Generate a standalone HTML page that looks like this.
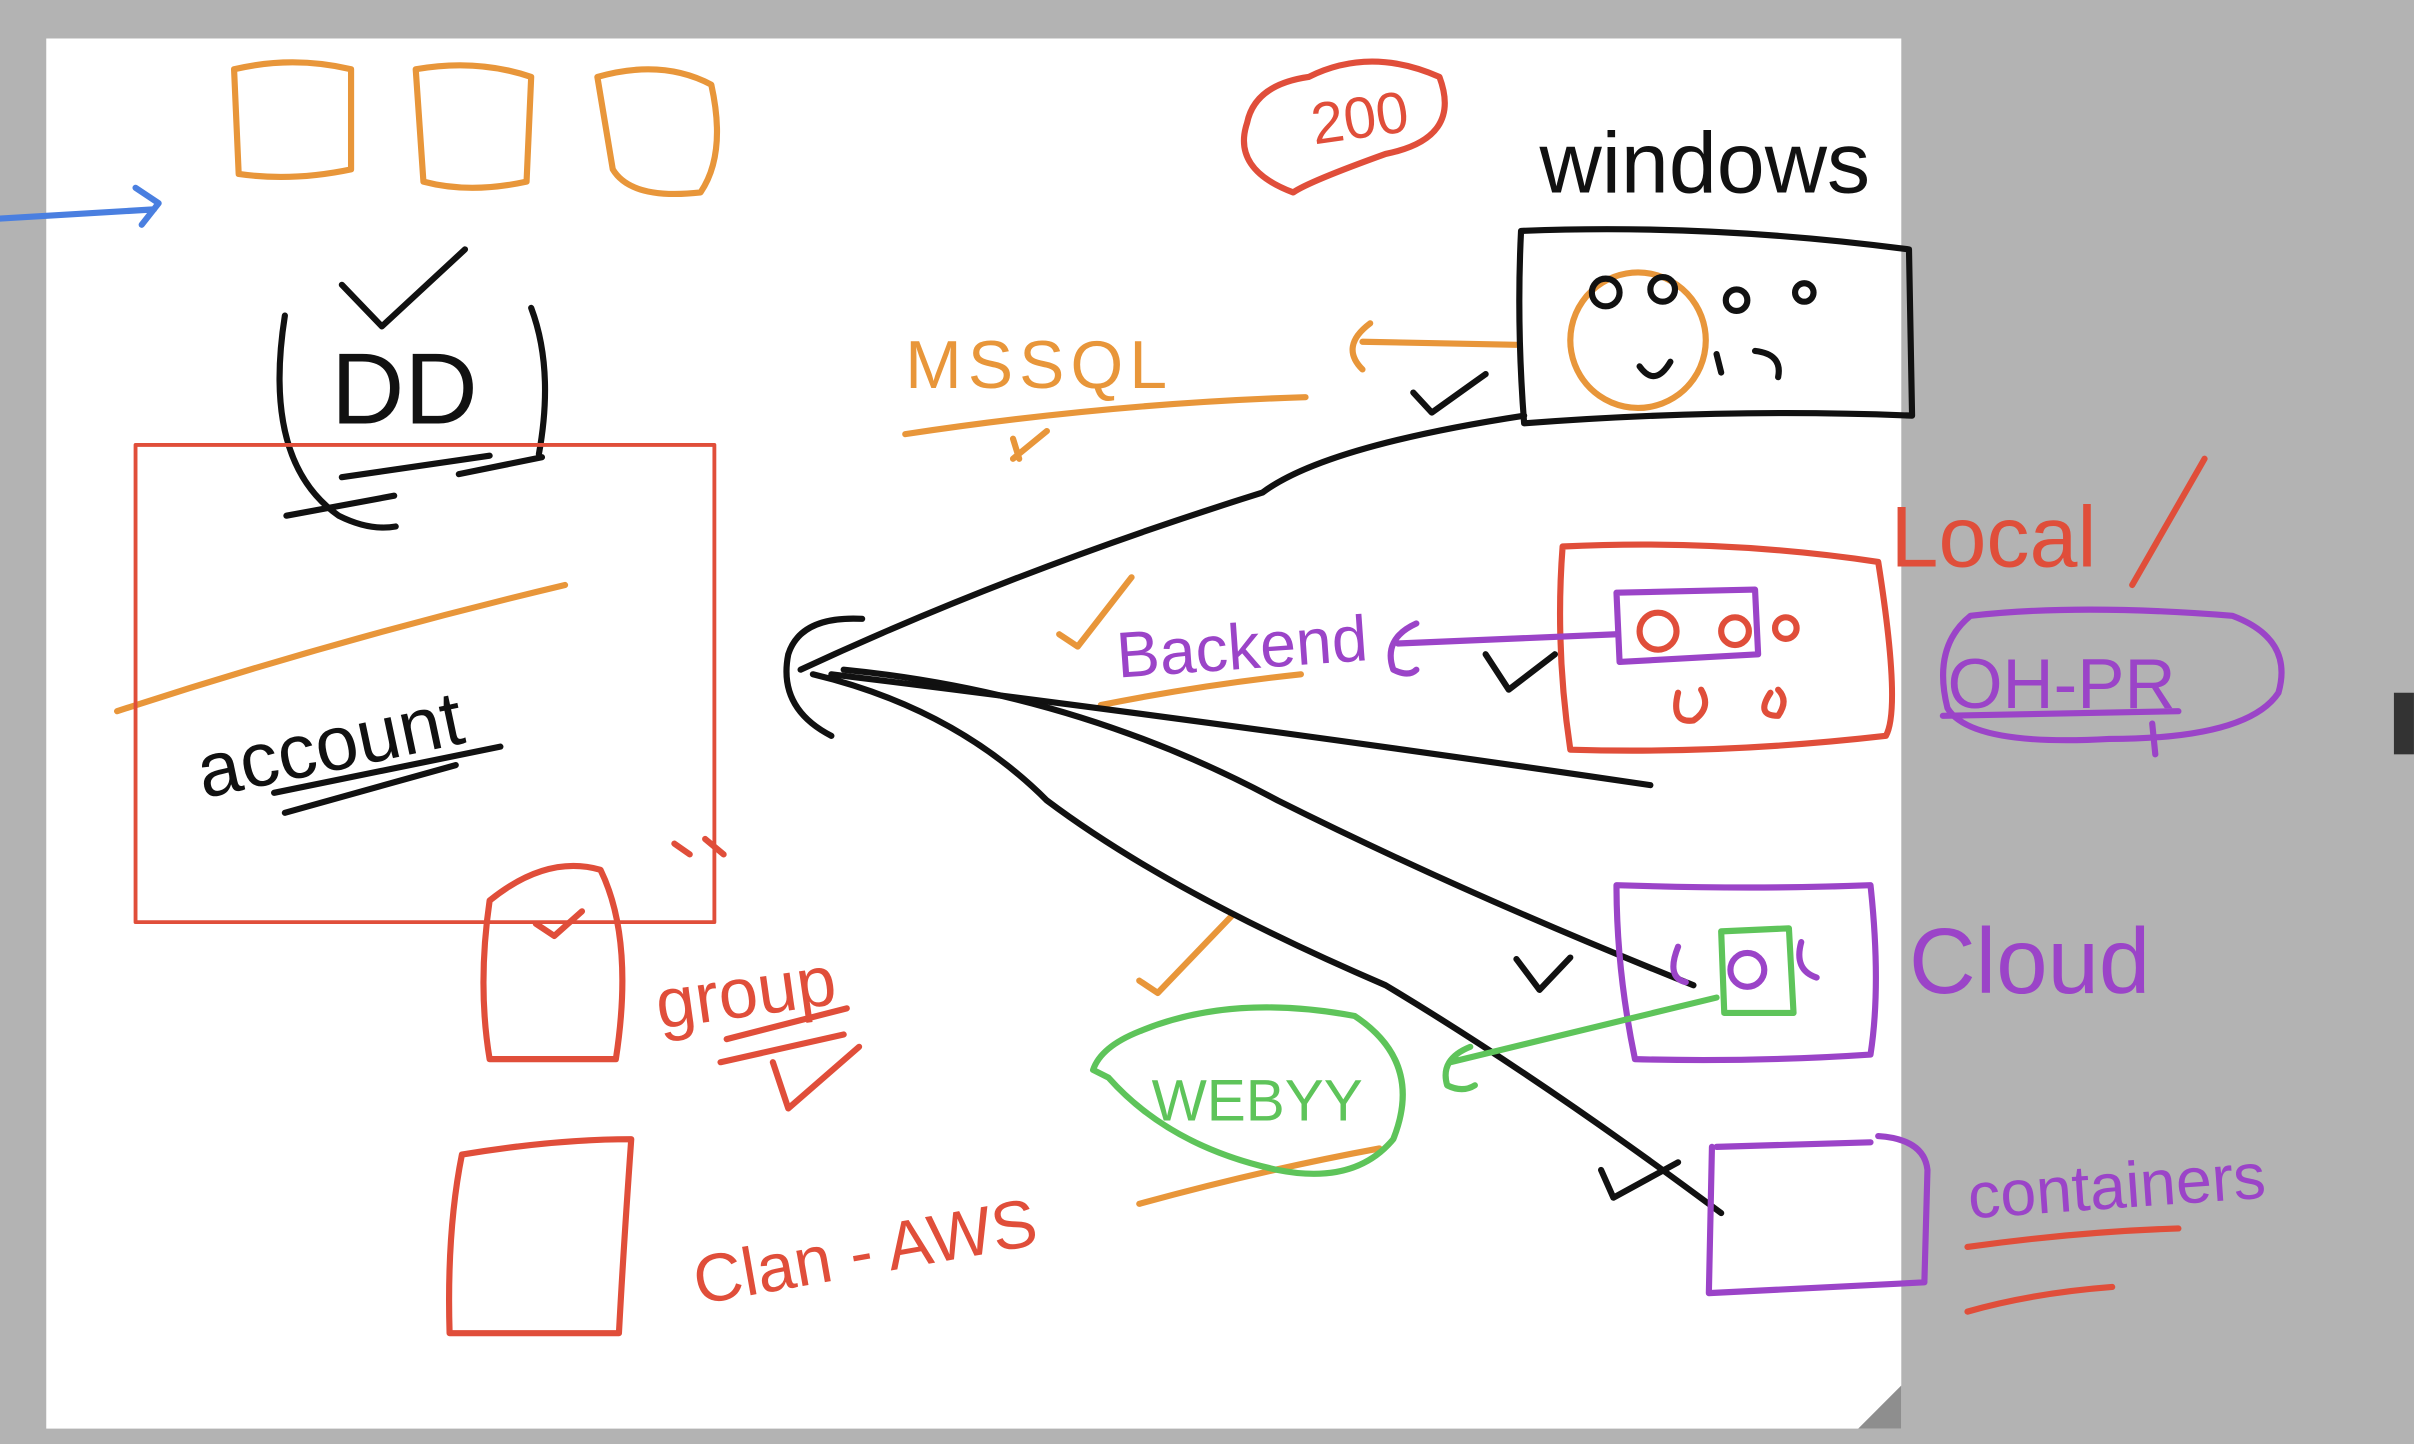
<!DOCTYPE html>
<html><head><meta charset="utf-8"><style>
html,body{margin:0;padding:0;background:#b3b3b3;}
svg{display:block;}
text{font-family:"Liberation Sans",sans-serif;}
</style></head><body>
<svg width="2414" height="1444" viewBox="0 0 1568 938" xmlns="http://www.w3.org/2000/svg">
<rect width="1568" height="938" fill="#b3b3b3"/>
<rect x="30" y="25" width="1205" height="903" fill="#fff"/>
<polygon points="1235,900 1235,928 1207,928" fill="#8e8e8e"/>
<rect x="1555" y="450" width="13" height="40" fill="#333"/>
<g fill="none" stroke-linecap="round" stroke-linejoin="round" stroke-width="4">
<path d="M0,142 L100,136 M88,122 L103,132 L92,146" stroke="#4a7fe0"/>
<g stroke="#e8963a">
<path d="M152,45 Q190,36 228,45 L228,110 Q190,118 155,113 Z"/>
<path d="M270,45 Q310,38 345,50 L342,118 Q305,126 275,118 Z"/>
<path d="M388,50 Q430,38 462,55 Q472,100 455,125 Q410,130 398,110 Z"/>
<path d="M76,462 Q220,415 367,380"/>
<path d="M588,282 Q720,262 848,258 M658,298 L680,280 M658,285 L662,298"/>
<path d="M890,210 Q870,225 885,240 M885,222 L985,224"/>
<circle cx="1064" cy="221" r="44" transform="rotate(-10 1064 221)"/>
<path d="M688,412 L700,420 L735,375 M715,458 Q780,445 845,438"/>
<path d="M740,637 L752,645 L800,595 M740,782 Q820,760 896,746"/>
</g>
<g stroke="#111">
<path d="M222,185 L248,212 L302,162"/>
<path d="M185,205 Q170,300 220,335 Q240,345 257,342 M345,200 Q360,240 350,295"/>
<path d="M222,310 L318,296 M298,308 L352,297 M186,335 L256,322"/>
<path d="M178,515 L325,485 M185,528 L296,497"/>
<path d="M560,402 Q520,400 512,425 Q505,460 540,478"/>
<path d="M520,435 Q660,370 820,320 Q860,290 990,270"/>
<path d="M540,438 Q800,470 1072,510"/>
<path d="M548,435 Q700,450 830,520 Q950,580 1100,640"/>
<path d="M528,438 Q620,460 680,520 Q760,580 900,640 Q1000,700 1118,788"/>
<path d="M988,150 Q1110,145 1240,162 L1242,270 Q1120,265 990,275 Q985,210 988,150 Z"/>
<circle cx="1043" cy="190" r="9"/><circle cx="1080" cy="188" r="8"/><circle cx="1128" cy="195" r="7"/><circle cx="1172" cy="190" r="6"/>
<path d="M1065,238 Q1075,252 1085,235 M1115,230 L1118,242 M1140,228 Q1158,230 1155,245"/>
<path d="M918,255 L930,268 L965,243"/>
<path d="M965,425 L980,448 L1010,425"/>
<path d="M985,623 L1000,643 L1020,622"/>
<path d="M1040,760 L1048,778 L1090,755"/>
</g>
<g stroke="#e04e3a">
<rect x="88" y="289" width="376" height="310" stroke-width="2.5"/>
<path d="M850,50 Q890,30 935,50 Q950,90 900,100 Q850,118 840,125 Q800,110 810,80 Q815,55 850,50"/>
<path d="M1385,380 L1432,298"/>
<path d="M1015,355 Q1120,350 1220,365 Q1235,460 1225,478 Q1120,490 1020,487 Q1010,420 1015,355 Z"/>
<circle cx="1077" cy="410" r="12"/><circle cx="1127" cy="410" r="9"/><circle cx="1160" cy="408" r="7"/>
<path d="M1090,450 Q1085,470 1100,468 Q1112,460 1105,448 M1150,450 Q1140,465 1155,465 Q1162,455 1155,448"/>
<path d="M318,585 Q355,555 390,565 Q412,610 400,688 L318,688 Q310,640 318,585 Z M348,600 L360,608 L378,592"/>
<path d="M438,548 L448,555 M458,545 L470,555"/>
<path d="M472,675 L550,655 M502,690 L512,720 L558,680 M468,690 L548,672"/>
<path d="M300,750 Q360,740 410,740 Q405,810 402,866 L292,866 Q290,800 300,750 Z"/>
<path d="M1278,810 Q1350,800 1415,798 M1278,852 Q1320,840 1372,836"/>
</g>
<g stroke="#9b44c8">
<path d="M920,405 Q898,415 905,435 Q915,440 920,435 M908,418 L1050,412"/>
<path d="M1050,385 L1140,383 L1142,425 L1052,430 Z"/>
<path d="M1280,400 Q1350,392 1450,400 Q1490,415 1480,450 Q1460,480 1370,480 Q1280,485 1265,460 Q1255,420 1280,400 Z"/>
<path d="M1262,465 L1415,462 M1398,470 L1400,490"/>
<path d="M1050,575 Q1140,578 1215,575 Q1222,640 1215,685 Q1140,690 1062,688 Q1050,630 1050,575 Z"/>
<path d="M1090,615 Q1082,635 1095,638 M1170,612 Q1165,630 1180,635"/>
<circle cx="1135" cy="630" r="11"/>
<path d="M1115,745 L1215,742 M1112,745 L1110,840 L1250,833 L1252,760 Q1250,740 1220,738"/>
</g>
<g stroke="#5ec45a">
<path d="M740,670 Q800,645 880,660 Q925,690 905,740 Q880,770 830,760 Q760,745 720,700 L710,695 Q715,680 740,670"/>
<path d="M955,680 Q935,688 940,705 Q950,710 958,705 M942,690 L1115,648"/>
<path d="M1118,605 L1162,603 L1165,658 L1120,658 Z"/>
</g>
</g>
<g>
<text x="852" y="90" font-size="38" fill="#e04e3a" transform="rotate(-8 880 80)">200</text>
<text x="1000" y="125" font-size="56" fill="#111">windows</text>
<text x="588" y="252" font-size="44" fill="#e8963a" letter-spacing="4">MSSQL</text>
<text x="725" y="435" font-size="42" fill="#9b44c8" transform="rotate(-4 800 420)">Backend</text>
<text x="215" y="275" font-size="66" fill="#111">DD</text>
<text x="122" y="497" font-size="50" fill="#111" transform="rotate(-12 230 460)">account</text>
<text x="1228" y="368" font-size="56" fill="#e04e3a">Local</text>
<text x="1265" y="460" font-size="46" fill="#9b44c8">OH-PR</text>
<text x="1240" y="645" font-size="60" fill="#9b44c8">Cloud</text>
<text x="1278" y="783" font-size="42" fill="#9b44c8" transform="rotate(-4 1400 770)">containers</text>
<text x="425" y="658" font-size="46" fill="#e04e3a" transform="rotate(-8 500 640)">group</text>
<text x="445" y="828" font-size="44" fill="#e04e3a" transform="rotate(-10 560 790)">Clan - AWS</text>
<text x="748" y="728" font-size="38" fill="#5ec45a">WEBYY</text>
</g>
</svg>
</body></html>
